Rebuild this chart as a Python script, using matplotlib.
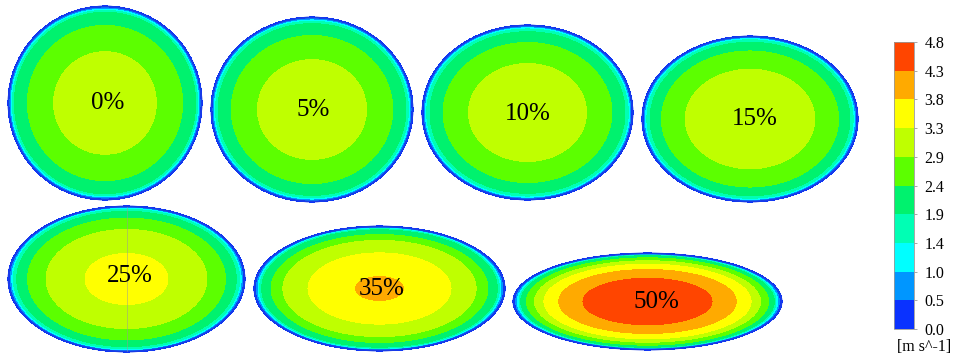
import numpy as np
import matplotlib.pyplot as plt
from matplotlib.colors import ListedColormap, BoundaryNorm
from matplotlib.patches import Ellipse

plt.rcParams['font.family'] = ['Liberation Serif', 'DejaVu Serif']

# velocity contour levels [m/s] and the band colours between them
levels = [0.0, 0.5, 1.0, 1.4, 1.9, 2.4, 2.9, 3.3, 3.8, 4.3, 4.8]
band_colors = ['#0a32ff', '#0096ff', '#00ffff', '#00ffb4', '#00f26e',
               '#5cff00', '#bfff00', '#ffff00', '#ffaa00', '#ff4500']

# compression of each cross-section
labels = ['0%', '5%', '10%', '15%', '25%', '35%', '50%']
# semi-axes of each section
semi_x = [97, 101, 105.5, 108, 118.5, 125.5, 134.5]
semi_y = [97, 92.5, 87.5, 83, 73, 62.5, 48.5]
# peak (centre) velocity of each section
peak = [3.15, 3.18, 3.2, 3.25, 3.55, 3.95, 4.6]
# contour levels crossed going from core to wall, and the normalised
# radius where each is crossed
core_u = [
    [2.9, 2.4, 1.9],
    [2.9, 2.4, 1.9],
    [2.9, 2.4, 1.9],
    [2.9, 2.4, 1.9],
    [3.3, 2.9, 2.4, 1.9],
    [3.8, 3.3, 2.9, 2.4, 1.9],
    [4.3, 3.8, 3.3, 2.9, 2.4, 1.9],
]
core_r = [
    [0.53, 0.80, 0.935],
    [0.54, 0.80, 0.93],
    [0.56, 0.80, 0.925],
    [0.60, 0.82, 0.926],
    [0.35, 0.68, 0.835, 0.927],
    [0.19, 0.57, 0.77, 0.863, 0.94],
    [0.48, 0.66, 0.77, 0.84, 0.90, 0.943],
]
# thin wall layer shared by all sections
wall_u = [1.4, 1.0, 0.5, 0.0]
wall_r = [0.955, 0.968, 0.98, 1.0]

# layout (pixel positions of the section centres and labels)
centers = [(105, 103), (312, 109.5), (527.5, 112.5), (750, 119),
           (126.5, 279), (379.5, 288.5), (647.5, 301.5)]
label_pos = [(108, 103), (313, 110), (528, 114), (755, 119),
             (130, 276), (382, 289), (656, 302)]

W, H = 954, 363
fig = plt.figure(figsize=(W / 100, H / 100), dpi=100)
ax = fig.add_axes([0, 0, 1, 1])
ax.set_xlim(0, W)
ax.set_ylim(H, 0)
ax.axis('off')

cmap = ListedColormap(band_colors)
norm = BoundaryNorm(levels, cmap.N)

for i in range(len(labels)):
    a, b = semi_x[i], semi_y[i]
    cx, cy = centers[i]
    x = np.linspace(-a * 1.02, a * 1.02, 700)
    y = np.linspace(-b * 1.02, b * 1.02, 400)
    X, Y = np.meshgrid(x, y)
    r = np.sqrt((X / a) ** 2 + (Y / b) ** 2)
    rk = [0.0] + core_r[i] + wall_r + [2.0]
    uk = [peak[i]] + core_u[i] + wall_u + [-5.0]
    U = np.interp(r, rk, uk)
    cs = ax.contourf(X + cx, Y + cy, U, levels=levels, cmap=cmap, norm=norm)
    ax.add_patch(Ellipse((cx, cy), 2 * a - 1, 2 * b - 1, fill=False,
                         edgecolor='#1a3ce6', lw=1.3))
    if labels[i] == '25%':
        ax.plot([cx + 1, cx + 1], [cy - b + 1, cy + b - 1], color='0.6',
                lw=0.5, alpha=0.7)
    ax.text(*label_pos[i], labels[i], fontsize=18, ha='center', va='center')

# colour bar
cax = fig.add_axes([894 / W, 1 - 329 / H, 20 / W, 287 / H])
cb = fig.colorbar(cs, cax=cax, ticks=levels)
cb.ax.set_yticklabels(['%.1f' % v for v in levels])
cb.ax.tick_params(length=2.5, width=0.6, color='0.6', labelsize=11.5, pad=5)
cb.outline.set_linewidth(0.6)
cb.outline.set_edgecolor('0.6')
fig.text(924 / W, 1 - 347 / H, '[m s^-1]', fontsize=11.5,
         ha='center', va='center')

fig.savefig('out.png', dpi=100)
